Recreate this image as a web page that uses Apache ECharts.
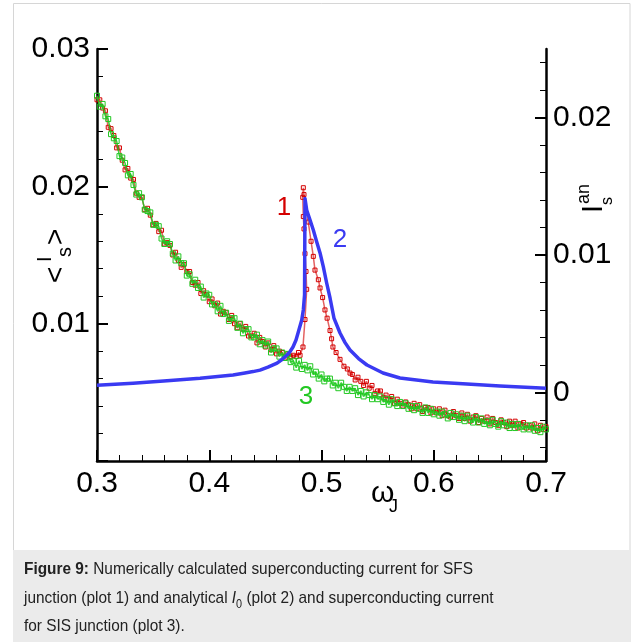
<!DOCTYPE html>
<html><head><meta charset="utf-8">
<script src="https://cdn.jsdelivr.net/npm/echarts@6/dist/echarts.min.js"></script>
<style>html,body{margin:0;padding:0;background:#fff;}#c{width:631px;height:642px;}</style>
</head><body><div id="c"></div>
<script>
// ---- data ----
// plot 3: SIS junction, <I_s> (left axis)
const sisOmega = [0.3000,0.3025,0.3050,0.3075,0.3100,0.3125,0.3150,0.3175,0.3200,0.3225,
  0.3250,0.3275,0.3300,0.3325,0.3350,0.3375,0.3400,0.3425,0.3450,0.3475,
  0.3500,0.3525,0.3550,0.3575,0.3600,0.3625,0.3650,0.3675,0.3700,0.3725,
  0.3750,0.3775,0.3800,0.3825,0.3850,0.3875,0.3900,0.3925,0.3950,0.3975,
  0.4000,0.4025,0.4050,0.4075,0.4100,0.4125,0.4150,0.4175,0.4200,0.4225,
  0.4250,0.4275,0.4300,0.4325,0.4350,0.4375,0.4400,0.4425,0.4450,0.4475,
  0.4500,0.4525,0.4550,0.4575,0.4600,0.4625,0.4650,0.4675,0.4700,0.4725,
  0.4750,0.4775,0.4800,0.4825,0.4850,0.4875,0.4900,0.4925,0.4950,0.4975,
  0.5000,0.5025,0.5050,0.5075,0.5100,0.5125,0.5150,0.5175,0.5200,0.5225,
  0.5250,0.5275,0.5300,0.5325,0.5350,0.5375,0.5400,0.5425,0.5450,0.5475,
  0.5500,0.5525,0.5550,0.5575,0.5600,0.5625,0.5650,0.5675,0.5700,0.5725,
  0.5750,0.5775,0.5800,0.5825,0.5850,0.5875,0.5900,0.5925,0.5950,0.5975,
  0.6000,0.6025,0.6050,0.6075,0.6100,0.6125,0.6150,0.6175,0.6200,0.6225,
  0.6250,0.6275,0.6300,0.6325,0.6350,0.6375,0.6400,0.6425,0.6450,0.6475,
  0.6500,0.6525,0.6550,0.6575,0.6600,0.6625,0.6650,0.6675,0.6700,0.6725,
  0.6750,0.6775,0.6800,0.6825,0.6850,0.6875,0.6900,0.6925,0.6950,0.6975,0.7000];
const sisCurrent = [0.0266,0.0258,0.0260,0.0251,0.0249,0.0238,0.0235,0.0233,0.0222,0.0221,
  0.0217,0.0208,0.0209,0.0201,0.0194,0.0195,0.0192,0.0183,0.0182,0.0181,
  0.0172,0.0172,0.0171,0.0162,0.0158,0.0160,0.0158,0.0151,0.0146,0.0149,
  0.0144,0.0144,0.0135,0.0136,0.0129,0.0132,0.0126,0.0127,0.0119,0.0122,
  0.0121,0.0114,0.0114,0.0109,0.0113,0.0107,0.0108,0.0102,0.0104,0.0104,
  0.0097,0.0100,0.0093,0.0096,0.0096,0.0090,0.0090,0.0092,0.0085,0.0088,
  0.0084,0.0087,0.0079,0.0082,0.0082,0.0076,0.0079,0.0075,0.0078,0.0072,
  0.0073,0.0068,0.0073,0.0067,0.0070,0.0066,0.0069,0.0063,0.0065,0.0060,
  0.0063,0.0058,0.0060,0.0060,0.0055,0.0057,0.0053,0.0057,0.0054,0.0051,
  0.0054,0.0051,0.0053,0.0048,0.0051,0.0047,0.0050,0.0048,0.0045,0.0048,
  0.0045,0.0047,0.0043,0.0045,0.0041,0.0045,0.0042,0.0040,0.0043,0.0040,
  0.0042,0.0038,0.0040,0.0037,0.0040,0.0038,0.0035,0.0039,0.0035,0.0038,
  0.0034,0.0036,0.0033,0.0036,0.0034,0.0031,0.0035,0.0032,0.0034,0.0030,
  0.0033,0.0029,0.0033,0.0030,0.0028,0.0032,0.0028,0.0031,0.0027,0.0029,
  0.0026,0.0030,0.0027,0.0025,0.0029,0.0026,0.0028,0.0024,0.0027,0.0024,
  0.0027,0.0025,0.0023,0.0026,0.0023,0.0026,0.0022,0.0024,0.0021,0.0025,0.0023];

// plot 1: SFS junction, <I_s> (left axis)
const sfsOmega = [0.3000,0.3025,0.3050,0.3075,0.3100,0.3125,0.3150,0.3175,0.3200,0.3225,
  0.3250,0.3275,0.3300,0.3325,0.3350,0.3375,0.3400,0.3425,0.3450,0.3475,
  0.3500,0.3525,0.3550,0.3575,0.3600,0.3625,0.3650,0.3675,0.3700,0.3725,
  0.3750,0.3775,0.3800,0.3825,0.3850,0.3875,0.3900,0.3925,0.3950,0.3975,
  0.4000,0.4025,0.4050,0.4075,0.4100,0.4125,0.4150,0.4175,0.4200,0.4225,
  0.4250,0.4275,0.4300,0.4325,0.4350,0.4375,0.4400,0.4425,0.4450,0.4475,
  0.4500,0.4525,0.4550,0.4575,0.4600,0.4625,0.4650,0.4675,0.4700,0.4725,
  0.4750,0.4775,0.4795,0.4809,0.4835,0.4853,0.4868,0.4862,0.4853,0.4844,
  0.4838,0.4833,0.4838,0.4844,0.4882,0.4907,0.4927,0.4942,0.4972,0.4987,
  0.5010,0.5031,0.5050,0.5076,0.5090,0.5102,0.5130,0.5165,0.5200,0.5230,0.5254,
  0.5275,0.5300,0.5325,0.5350,0.5375,0.5400,0.5425,0.5450,0.5475,0.5500,
  0.5525,0.5550,0.5575,0.5600,0.5625,0.5650,0.5675,0.5700,0.5725,0.5750,
  0.5775,0.5800,0.5825,0.5850,0.5875,0.5900,0.5925,0.5950,0.5975,0.6000,
  0.6025,0.6050,0.6075,0.6100,0.6125,0.6150,0.6175,0.6200,0.6225,0.6250,
  0.6275,0.6300,0.6325,0.6350,0.6375,0.6400,0.6425,0.6450,0.6475,0.6500,
  0.6525,0.6550,0.6575,0.6600,0.6625,0.6650,0.6675,0.6700,0.6725,0.6750,
  0.6775,0.6800,0.6825,0.6850,0.6875,0.6900,0.6925,0.6950,0.6975,0.7000];
const sfsCurrent = [0.0263,0.0263,0.0257,0.0255,0.0243,0.0242,0.0237,0.0228,0.0228,0.0219,
  0.0212,0.0213,0.0206,0.0205,0.0195,0.0192,0.0192,0.0183,0.0184,0.0179,
  0.0172,0.0173,0.0167,0.0168,0.0158,0.0159,0.0157,0.0150,0.0152,0.0146,
  0.0141,0.0143,0.0138,0.0138,0.0130,0.0128,0.0130,0.0122,0.0124,0.0121,
  0.0116,0.0118,0.0113,0.0115,0.0107,0.0109,0.0108,0.0103,0.0106,0.0100,
  0.0097,0.0100,0.0096,0.0098,0.0091,0.0091,0.0093,0.0086,0.0090,0.0087,
  0.0083,0.0086,0.0081,0.0084,0.0078,0.0080,0.0079,0.0075,0.0078,0.0076,
  0.0077,0.0076,0.0079,0.0077,0.0083,0.0103,0.0125,0.0138,0.0151,0.0169,
  0.0178,0.0192,0.0199,0.0194,0.0174,0.0160,0.0149,0.0139,0.0132,0.0126,
  0.0119,0.0110,0.0104,0.0095,0.0089,0.0083,0.0079,0.0074,0.0069,0.0067,0.0064,
  0.0063,0.0059,0.0061,0.0058,0.0055,0.0058,0.0053,0.0055,0.0049,0.0051,
  0.0051,0.0046,0.0048,0.0045,0.0047,0.0042,0.0045,0.0042,0.0040,0.0043,
  0.0041,0.0038,0.0042,0.0038,0.0041,0.0036,0.0039,0.0039,0.0035,0.0038,
  0.0035,0.0038,0.0033,0.0037,0.0033,0.0032,0.0036,0.0033,0.0031,0.0035,
  0.0031,0.0034,0.0029,0.0032,0.0033,0.0028,0.0031,0.0029,0.0032,0.0027,
  0.0031,0.0028,0.0026,0.0030,0.0028,0.0025,0.0029,0.0026,0.0029,0.0024,
  0.0027,0.0028,0.0024,0.0026,0.0024,0.0027,0.0022,0.0026,0.0023,0.0025];

// plot 2: analytical I_s^an (right axis)
const anOmega = [0.3000,0.3321,0.3624,0.3918,0.4212,0.4318,0.4390,0.4452,0.4523,0.4604,
  0.4648,0.4693,0.4720,0.4746,0.4773,0.4791,0.4824,0.4838,0.4849,0.4853,
  0.4868,0.4898,0.4927,0.4957,0.4987,0.5016,0.5046,0.5076,0.5111,0.5165,
  0.5210,0.5254,0.5330,0.5405,0.5548,0.5699,0.5993,0.6296,0.6590,0.7000];
const anCurrent = [0.00052,0.00066,0.00084,0.00102,0.00126,0.00141,0.00151,0.00162,0.00184,0.00213,
  0.00239,0.00272,0.00297,0.0033,0.00381,0.00432,0.00527,0.0060,0.00709,0.01411,
  0.01328,0.01255,0.01182,0.01097,0.01015,0.00915,0.00796,0.00687,0.00541,0.00432,
  0.00362,0.00308,0.00246,0.00199,0.00141,0.00104,0.00075,0.0006,0.00046,0.0003];

const xTickLabels = ['0.3','0.4','0.5','0.6','0.7'];
const rightMajorTicks = [0, 0.01, 0.02];
const rightMinorTicks = [-0.004,-0.002,0.002,0.004,0.006,0.008,0.012,0.014,0.016,0.018,0.022,0.024];
const annotations = [ // [omega, value, text]
  [0.4666, 0.0184, '1'],
  [0.5165, 0.0111, '2'],
  [0.4862, 0.00466, '3']
];

// ---- chart ----
const FONT = '"Liberation Sans", Arial, Helvetica, sans-serif';
const pairs = (xs, ys) => xs.map((x, i) => [x, ys[i]]);
const chart = echarts.init(document.getElementById('c'), null, {renderer: 'canvas'});

function mark(a, color) {
  return {
    symbol: 'rect', symbolSize: 1, silent: true,
    itemStyle: {color: 'rgba(0,0,0,0)'},
    label: {show: true, position: 'inside', formatter: a[2], color: color, fontSize: 26, fontFamily: FONT},
    data: [{coord: [a[0], a[1]]}]
  };
}

const axisLineStyle = {color: '#000', width: 2.5};
const labelStyle = {color: '#000', fontSize: 30, fontFamily: FONT};

const option = {
  animation: false,
  backgroundColor: '#fff',
  grid: {left: 97, right: 85, top: 49, bottom: 181, containLabel: false, outerBoundsMode: 'none'},
  xAxis: {
    type: 'value', min: 0.3, max: 0.7, interval: 0.1,
    axisLine: {show: true, onZero: false, lineStyle: axisLineStyle},
    axisTick: {show: true, inside: true, length: 11, lineStyle: {color: '#000', width: 2}},
    minorTick: {show: true, splitNumber: 5, length: 6, lineStyle: {color: '#000', width: 1}},
    splitLine: {show: false}, minorSplitLine: {show: false},
    axisLabel: Object.assign({margin: 8, formatter: v => xTickLabels[Math.round((v - 0.3) * 10)]}, labelStyle)
  },
  yAxis: [
    {
      type: 'value', position: 'left', min: 0, max: 0.03, interval: 0.01,
      axisLine: {show: true, onZero: false, lineStyle: axisLineStyle},
      axisTick: {show: true, inside: true, length: 11, lineStyle: {color: '#000', width: 2}},
      minorTick: {show: true, splitNumber: 5, length: 6, lineStyle: {color: '#000', width: 1}},
      splitLine: {show: false}, minorSplitLine: {show: false},
      axisLabel: Object.assign({margin: 7, formatter: v => (Math.abs(v) < 1e-9 ? '' : v.toFixed(2))}, labelStyle)
    },
    {
      type: 'value', position: 'right', min: -0.005, max: 0.025,
      axisLine: {show: true, onZero: false, lineStyle: axisLineStyle},
      axisTick: {show: true, inside: true, length: 11, customValues: rightMajorTicks, lineStyle: {color: '#000', width: 2}},
      splitLine: {show: false},
      axisLabel: Object.assign({margin: 7, customValues: rightMajorTicks, showMinLabel: true, showMaxLabel: true,
        formatter: v => (Math.abs(v) < 1e-9 ? '0' : v.toFixed(2))}, labelStyle)
    },
    {
      type: 'value', position: 'right', min: -0.005, max: 0.025,
      axisLine: {show: false},
      axisTick: {show: true, inside: true, length: 6, customValues: rightMinorTicks, lineStyle: {color: '#000', width: 1}},
      splitLine: {show: false},
      axisLabel: {show: false}
    }
  ],
  series: [
    {
      name: 'SFS', type: 'line', xAxisIndex: 0, yAxisIndex: 0, z: 2,
      data: pairs(sfsOmega, sfsCurrent),
      symbol: 'rect', symbolSize: 4, showSymbol: true,
      lineStyle: {color: 'rgba(215,30,30,0.7)', width: 1.5},
      itemStyle: {color: 'rgba(255,255,255,0)', borderColor: '#d40000', borderWidth: 1},
      markPoint: mark(annotations[0], '#d40000')
    },
    {
      name: 'SIS', type: 'line', xAxisIndex: 0, yAxisIndex: 0, z: 3,
      data: pairs(sisOmega, sisCurrent),
      symbol: 'rect', symbolSize: 5, showSymbol: true,
      lineStyle: {color: 'rgba(30,200,30,0.85)', width: 1.5},
      itemStyle: {color: 'rgba(255,255,255,0)', borderColor: '#22c822', borderWidth: 1},
      markPoint: mark(annotations[2], '#22c822')
    },
    {
      name: 'analytical', type: 'line', xAxisIndex: 0, yAxisIndex: 1, z: 4,
      data: pairs(anOmega, anCurrent),
      showSymbol: false,
      lineStyle: {color: '#3a3af2', width: 3.5, join: 'round'},
      markPoint: mark(annotations[1], '#3a3af2')
    }
  ],
  graphic: [
    {type: 'rect', z: -10, silent: true, shape: {x: 13.5, y: 3.5, width: 616.5, height: 700},
      style: {fill: 'none', stroke: '#d6d6d6', lineWidth: 1}},
    {type: 'rect', z: -9, silent: true, shape: {x: 13, y: 550, width: 617, height: 92},
      style: {fill: '#ebebeb'}},
    // left axis title  <I_s>
    {type: 'group', x: 52, y: 283, rotation: Math.PI / 2, children: [
      {type: 'text', x: 0, y: 4.3, style: {text: '<', font: '28px ' + FONT, fill: '#000', align: 'left', verticalAlign: 'middle'}},
      {type: 'text', x: 21, y: -6.2, style: {text: 'I', font: '20px ' + FONT, fill: '#000', align: 'left', verticalAlign: 'middle'}},
      {type: 'text', x: 26, y: 13.8, style: {text: 's', font: '20px ' + FONT, fill: '#000', align: 'left', verticalAlign: 'middle'}},
      {type: 'text', x: 38, y: 4.3, style: {text: '>', font: '28px ' + FONT, fill: '#000', align: 'left', verticalAlign: 'middle'}}
    ]},
    // right axis title I_s^an
    {type: 'group', x: 603, y: 213, rotation: Math.PI / 2, children: [
      {type: 'text', x: 0, y: -9, style: {text: 'I', font: '29px ' + FONT, fill: '#000', align: 'left', verticalAlign: 'middle'}},
      {type: 'text', x: 9, y: -18.6, style: {text: 'an', font: '18px ' + FONT, fill: '#000', align: 'left', verticalAlign: 'middle'}},
      {type: 'text', x: 8, y: 5, style: {text: 's', font: '16px ' + FONT, fill: '#000', align: 'left', verticalAlign: 'middle'}}
    ]},
    // x axis title omega_J
    {type: 'text', x: 371, y: 493.7, style: {text: 'ω', font: '30px ' + FONT, fill: '#000', align: 'left', verticalAlign: 'middle'}},
    {type: 'text', x: 389, y: 507.4, style: {text: 'J', font: '18px ' + FONT, fill: '#000', align: 'left', verticalAlign: 'middle'}},
    // caption
    {type: 'text', x: 24, y: 555.5, scaleX: 0.905, style: {
      text: '{b|Figure 9:} Numerically calculated superconducting current for SFS\njunction (plot 1) and analytical {i|I}{sub|0} (plot 2) and superconducting current\nfor SIS junction (plot 3).',
      font: '17px ' + FONT, fill: '#222', lineHeight: 28.5, align: 'left', verticalAlign: 'top',
      rich: {
        b: {fontWeight: 'bold', fontSize: 17, fontFamily: FONT, fill: '#222', lineHeight: 28.5},
        i: {fontStyle: 'italic', fontSize: 17, fontFamily: FONT, fill: '#222', lineHeight: 28.5},
        sub: {fontSize: 12, fontFamily: FONT, fill: '#222', verticalAlign: 'bottom', lineHeight: 28.5, padding: [0, 0, 2, 0]}
      }
    }}
  ]
};
chart.setOption(option);
</script>
</body></html>
